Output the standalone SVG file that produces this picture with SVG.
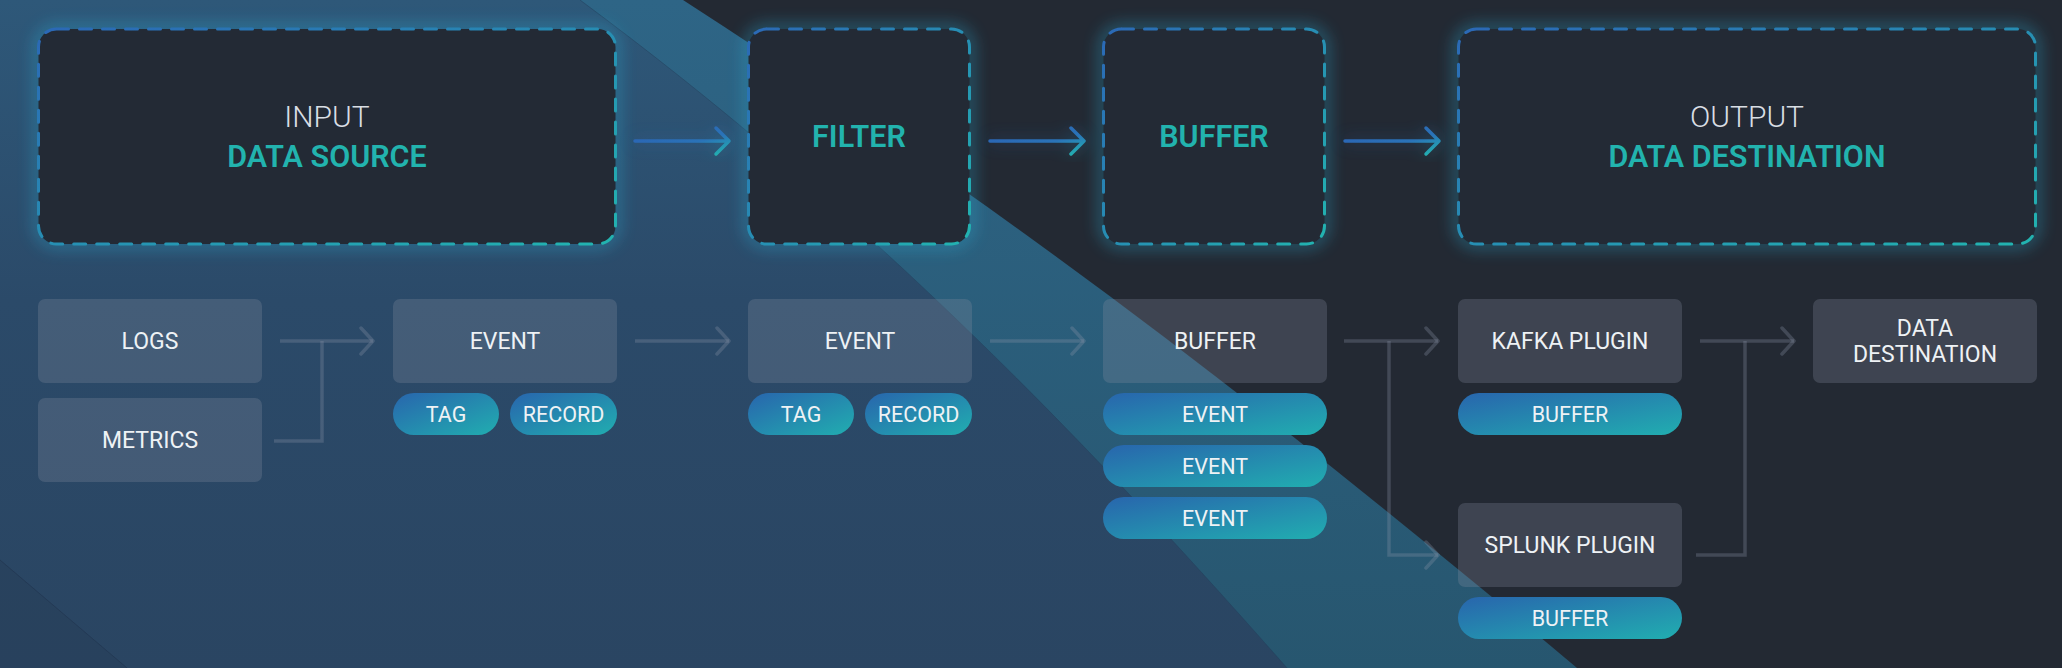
<svg xmlns="http://www.w3.org/2000/svg" width="2062" height="668" viewBox="0 0 2062 668">
<defs>
<linearGradient id="gBlue" x1="0" y1="0" x2="0" y2="668" gradientUnits="userSpaceOnUse">
<stop offset="0" stop-color="#2e5879"/>
<stop offset="0.45" stop-color="#2b4a69"/>
<stop offset="1" stop-color="#2a4562"/>
</linearGradient>
<linearGradient id="gBand" x1="0" y1="0" x2="0" y2="668" gradientUnits="userSpaceOnUse">
<stop offset="0" stop-color="#2e6586"/>
<stop offset="1" stop-color="#27566f"/>
</linearGradient>
<linearGradient id="gEdge" x1="0" y1="0" x2="1" y2="1">
<stop offset="0" stop-color="#2b68b6"/>
<stop offset="1" stop-color="#22b4b0"/>
</linearGradient>
<linearGradient id="gPill" x1="0" y1="0" x2="1" y2="1">
<stop offset="0" stop-color="#2865ad"/>
<stop offset="1" stop-color="#21aeb0"/>
</linearGradient>
<linearGradient id="gArrow" x1="0" y1="0" x2="1" y2="1">
<stop offset="0" stop-color="#2b5fb3"/>
<stop offset="0.6" stop-color="#2a73b8"/>
<stop offset="1" stop-color="#22b6b0"/>
</linearGradient>
<filter id="glow" x="-20%" y="-30%" width="140%" height="160%">
<feGaussianBlur stdDeviation="8"/>
</filter>
<marker id="chev" viewBox="0 0 16 30" refX="14" refY="15" markerWidth="16" markerHeight="30" markerUnits="userSpaceOnUse" orient="auto">
<path d="M2,2 L14,15 L2,28" fill="none" stroke="#8a94a8" stroke-opacity="0.3" stroke-width="3.5" stroke-linecap="round" stroke-linejoin="round"/>
</marker>
<style>
.top{fill:#232a35;stroke:url(#gEdge);stroke-width:3;stroke-dasharray:12 11;stroke-linecap:round}
.halo{fill:none;stroke:#2aa9cf;stroke-width:8;opacity:0.55;filter:url(#glow)}
.box{fill:#8a90a3;fill-opacity:0.27}
.pill{fill:url(#gPill)}
.t{font-family:Roboto,"Liberation Sans",sans-serif;fill:#eef2f5;text-anchor:middle}
.bt{font-size:23px}
.pt{font-size:21.5px}
.h1{font-family:Roboto,"Liberation Sans",sans-serif;font-size:30px;fill:#d9dee4;text-anchor:middle;font-weight:300}
.h2{font-family:Roboto,"Liberation Sans",sans-serif;font-size:30.5px;fill:#22b3ae;text-anchor:middle;font-weight:600}
.conn{fill:none;stroke:#8a94a8;stroke-opacity:0.3;stroke-width:3.5}
.tarrow{fill:none;stroke:url(#gArrow);stroke-width:3.5;stroke-linecap:round;stroke-linejoin:round}
</style>
</defs>

<g id="background">
<rect x="0" y="0" width="2062" height="668" fill="#232933"/>
<path d="M0,0 L683,0 C1024,220 1303,438 1577,668 L0,668 Z" fill="url(#gBand)"/>
<path d="M0,0 L580,0 C850,200 1067,418 1287,668 L0,668 Z" fill="url(#gBlue)"/>
<path d="M580,0 C850,200 1067,418 1287,668" fill="none" stroke="#22405c" stroke-opacity="0.5" stroke-width="1"/>
<path d="M0,560 L127,668 L0,668 Z" fill="#283f5a" fill-opacity="0.6"/>
<path d="M0,560 L127,668" stroke="#243a55" stroke-width="1" fill="none"/>
</g>

<g id="halos">
<rect class="halo" x="38.5" y="29" width="577" height="215" rx="18"/>
<rect class="halo" x="748.5" y="29" width="221" height="215" rx="18"/>
<rect class="halo" x="1103.5" y="29" width="221" height="215" rx="18"/>
<rect class="halo" x="1458.5" y="29" width="577" height="215" rx="18"/>
</g>

<g id="connectors">
<g filter="url(#glow)" opacity="0.5">
<path class="tarrow" d="M635,141 H729 M716,128 L729,141 L716,154"/>
<path class="tarrow" d="M990,141 H1084 M1071,128 L1084,141 L1071,154"/>
<path class="tarrow" d="M1345,141 H1439 M1426,128 L1439,141 L1426,154"/>
</g>
<path class="tarrow" d="M635,141 H729 M716,128 L729,141 L716,154"/>
<path class="tarrow" d="M990,141 H1084 M1071,128 L1084,141 L1071,154"/>
<path class="tarrow" d="M1345,141 H1439 M1426,128 L1439,141 L1426,154"/>

<path class="conn" d="M280,341 H373" marker-end="url(#chev)"/>
<path class="conn" d="M274,441 H322 V341"/>
<path class="conn" d="M635,341 H729" marker-end="url(#chev)"/>
<path class="conn" d="M990,341 H1084" marker-end="url(#chev)"/>
<path class="conn" d="M1344,341 H1438" marker-end="url(#chev)"/>
<path class="conn" d="M1389,341 V555 H1438" marker-end="url(#chev)"/>
<path class="conn" d="M1700,341 H1794" marker-end="url(#chev)"/>
<path class="conn" d="M1696,555 H1745 V341"/>
</g>

<g id="input">
<rect class="top" x="38.5" y="29" width="577" height="215" rx="18"/>
<text class="h1" x="327" y="127">INPUT</text>
<text class="h2" x="327" y="167">DATA SOURCE</text>
</g>
<g id="filter">
<rect class="top" x="748.5" y="29" width="221" height="215" rx="18"/>
<text class="h2" x="859" y="147">FILTER</text>
</g>
<g id="buffer">
<rect class="top" x="1103.5" y="29" width="221" height="215" rx="18"/>
<text class="h2" x="1214" y="147">BUFFER</text>
</g>
<g id="output">
<rect class="top" x="1458.5" y="29" width="577" height="215" rx="18"/>
<text class="h1" x="1747" y="127">OUTPUT</text>
<text class="h2" x="1747" y="167">DATA DESTINATION</text>
</g>

<g id="logs">
<rect class="box" x="38" y="299" width="224" height="84" rx="7"/>
<text class="t bt" x="150" y="349">LOGS</text>
</g>
<g id="metrics">
<rect class="box" x="38" y="398" width="224" height="84" rx="7"/>
<text class="t bt" x="150" y="448">METRICS</text>
</g>

<g id="event1">
<rect class="box" x="393" y="299" width="224" height="84" rx="7"/>
<text class="t bt" x="505" y="349">EVENT</text>
<rect class="pill" x="393" y="393" width="106" height="42" rx="21"/>
<text class="t pt" x="446" y="421.5">TAG</text>
<rect class="pill" x="510" y="393" width="107" height="42" rx="21"/>
<text class="t pt" x="563.5" y="421.5">RECORD</text>
</g>

<g id="event2">
<rect class="box" x="748" y="299" width="224" height="84" rx="7"/>
<text class="t bt" x="860" y="349">EVENT</text>
<rect class="pill" x="748" y="393" width="106" height="42" rx="21"/>
<text class="t pt" x="801" y="421.5">TAG</text>
<rect class="pill" x="865" y="393" width="107" height="42" rx="21"/>
<text class="t pt" x="918.5" y="421.5">RECORD</text>
</g>

<g id="buffer2">
<rect class="box" x="1103" y="299" width="224" height="84" rx="7"/>
<text class="t bt" x="1215" y="349">BUFFER</text>
<rect class="pill" x="1103" y="393" width="224" height="42" rx="21"/>
<text class="t pt" x="1215" y="421.5">EVENT</text>
<rect class="pill" x="1103" y="445" width="224" height="42" rx="21"/>
<text class="t pt" x="1215" y="473.5">EVENT</text>
<rect class="pill" x="1103" y="497" width="224" height="42" rx="21"/>
<text class="t pt" x="1215" y="525.5">EVENT</text>
</g>

<g id="kafka">
<rect class="box" x="1458" y="299" width="224" height="84" rx="7"/>
<text class="t bt" x="1570" y="349">KAFKA PLUGIN</text>
<rect class="pill" x="1458" y="393" width="224" height="42" rx="21"/>
<text class="t pt" x="1570" y="421.5">BUFFER</text>
</g>

<g id="splunk">
<rect class="box" x="1458" y="503" width="224" height="84" rx="7"/>
<text class="t bt" x="1570" y="553">SPLUNK PLUGIN</text>
<rect class="pill" x="1458" y="597" width="224" height="42" rx="21"/>
<text class="t pt" x="1570" y="625.5">BUFFER</text>
</g>

<g id="destination">
<rect class="box" x="1813" y="299" width="224" height="84" rx="7"/>
<text class="t bt" x="1925" y="336">DATA</text>
<text class="t bt" x="1925" y="362">DESTINATION</text>
</g>
</svg>
